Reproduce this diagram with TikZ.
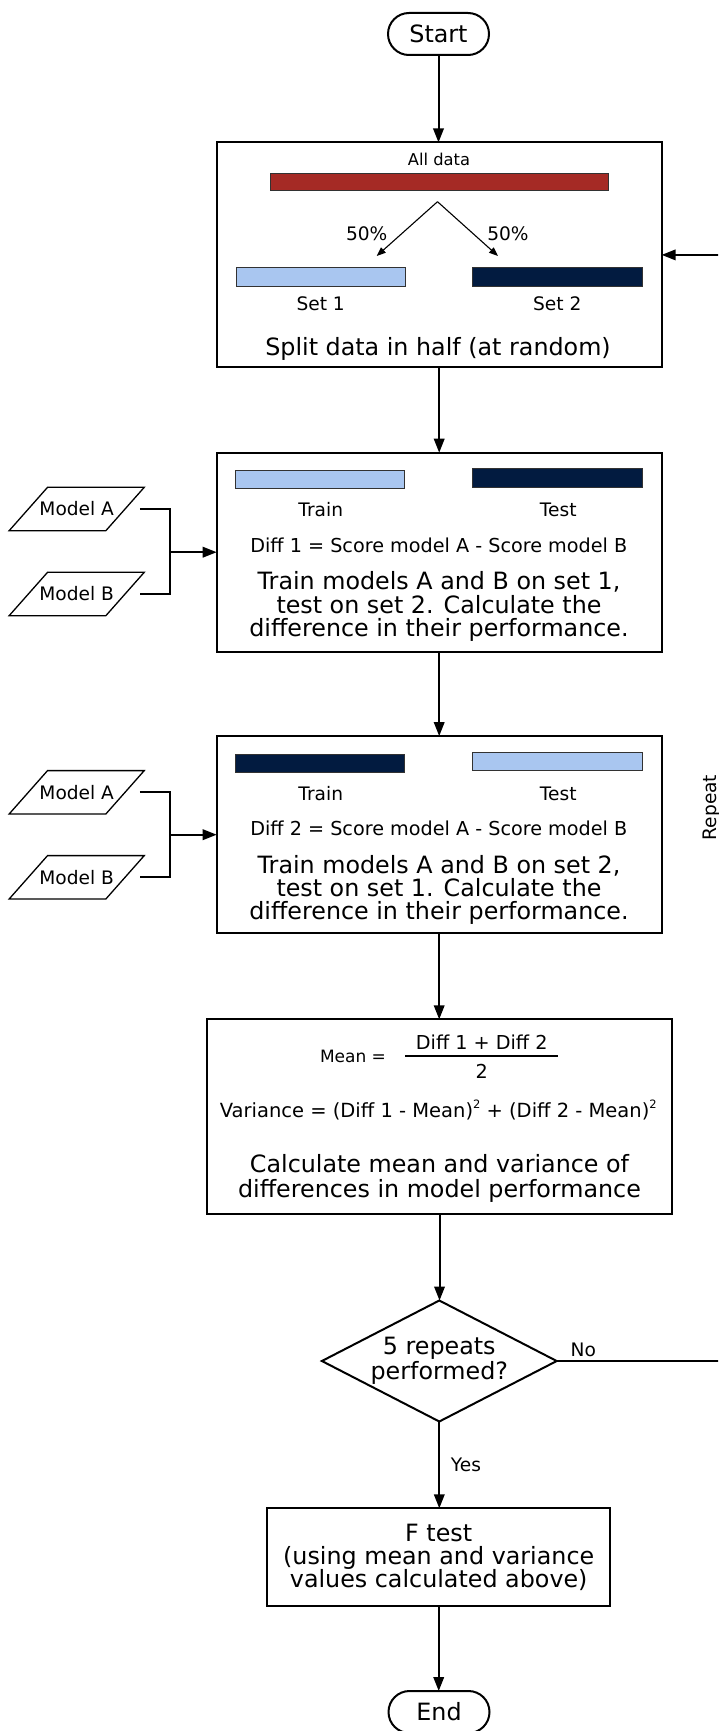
\documentclass[tikz,border=0pt]{standalone}
\usepackage{fontspec}
\setmainfont{DejaVu Sans}
\usetikzlibrary{arrows.meta,shapes.geometric,calc}

\definecolor{alldata}{RGB}{165,42,37}
\definecolor{lightset}{RGB}{169,198,240}
\definecolor{darkset}{RGB}{2,27,64}
\definecolor{barline}{RGB}{50,50,50}

\newcommand\txtL{\fontsize{23.8}{23.3}\selectfont}
\newcommand\txtM{\fontsize{18.6}{20}\selectfont}
\newcommand\txtD{\fontsize{19.2}{20}\selectfont}
\newcommand\txtS{\fontsize{16.3}{18}\selectfont}
\newcommand\sqr{\raisebox{0.42em}{\fontsize{11.5}{11.5}\selectfont 2}}

\begin{document}
\begin{tikzpicture}[x=1pt,y=-1pt,
  every node/.style={inner sep=0pt, outer sep=0pt, text=black},
  flow/.style={draw=black, line width=2pt, fill=white},
  terminal/.style={flow, rectangle, rounded corners=21pt, minimum width=101pt, minimum height=42pt, font=\txtL},
  procbox/.style={flow, rectangle},
  bar/.style={draw=barline, line width=1pt, rectangle},
  inputbox/.style={rectangle, minimum width=96.7pt, minimum height=43.4pt, font=\txtM},
  decision/.style={flow, diamond, aspect=1.94, minimum width=234.8pt, minimum height=121pt,
    align=center, font=\fontsize{23.8}{25}\selectfont},
  link/.style={line width=2pt, draw=black, line join=miter},
  arrowlink/.style={link, -{Triangle[length=14pt,width=10.5pt]}},
  splitlink/.style={line width=1.1pt, -{Triangle[length=9pt,width=7pt]}},
  lblM/.style={font=\txtM, text height=13.6pt, text depth=0pt},
  lblD/.style={font=\txtD, text height=14pt, text depth=0pt},
  lblS/.style={font=\txtS, text height=11.9pt, text depth=0pt},
  lblL/.style={font=\txtL, text height=17.4pt, text depth=0pt},
  bigtext/.style={align=center, font=\txtL},
]
\useasboundingbox (0,0) rectangle (718,1731);
\clip (0,0) rectangle (718,1731);
\fill[white] (0,0) rectangle (718,1731);

% ---------- terminals ----------
\node[terminal] (start) at (438.5,34) {Start};
\node[terminal] (end) at (439,1712) {End};

% ---------- split step ----------
\node[procbox, minimum width=445pt, minimum height=224.8pt] (split) at (439.2,254.9) {};
\node[lblS] (alltxt) at (439,160) {All data};
\node[bar, fill=alldata, minimum width=338pt, minimum height=17pt] (allbar) at (439,182.5) {};
\coordinate (fork) at (437.5,201.7);
\coordinate (forkL) at (376.7,256);
\coordinate (forkR) at (498,256);
\draw[splitlink] (fork) -- (forkL);
\draw[splitlink] (fork) -- (forkR);
\node[lblM] (halfL) at (366.7,234) {50\%};
\node[lblM] (halfR) at (508,234) {50\%};
\node[bar, fill=lightset, minimum width=169pt, minimum height=18.7pt] (set1bar) at (320.5,277.3) {};
\node[bar, fill=darkset, minimum width=170pt, minimum height=18.7pt] (set2bar) at (557.7,277.3) {};
\node[lblM] (set1txt) at (320.7,303.3) {Set 1};
\node[lblM] (set2txt) at (557.3,303.3) {Set 2};
\node[lblL] (splittxt) at (438,346.7) {Split data in half (at random)};

% ---------- first train/test step ----------
\node[procbox, minimum width=445pt, minimum height=199pt] (b1) at (439.2,552.2) {};
\node[bar, fill=lightset, minimum width=169.3pt, minimum height=18.3pt] (b1train) at (320.3,479.8) {};
\node[bar, fill=darkset, minimum width=170pt, minimum height=18.7pt] (b1test) at (557.7,478.3) {};
\node[lblM] (b1traintxt) at (320.7,510) {Train};
\node[lblM] (b1testtxt) at (558.3,510) {Test};
\node[lblD] (b1diff) at (438.8,545) {Diff 1 = Score model A - Score model B};
\node[bigtext] (b1main) at (439,606.5) {Train models A and B on set 1,\\test on set 2. Calculate the\\difference in their performance.};

\node[inputbox] (mA1) at (76.7,509) {Model A};
\node[inputbox] (mB1) at (76.7,594) {Model B};
\coordinate (a1) at ([xshift=14.7pt]mA1.east);
\coordinate (bb1) at ([xshift=14.7pt]mB1.east);
\coordinate (j1) at (170,552.2);
\draw[link] (a1) -| (j1) |- (bb1);
\draw[arrowlink] (j1) -- (j1 -| b1.west);

% ---------- second train/test step ----------
\node[procbox, minimum width=445pt, minimum height=197.3pt] (b2) at (439.2,834.7) {};
\node[bar, fill=darkset, minimum width=169.3pt, minimum height=18.3pt] (b2train) at (320.3,763.2) {};
\node[bar, fill=lightset, minimum width=170pt, minimum height=18.7pt] (b2test) at (557.7,761.5) {};
\node[lblM] (b2traintxt) at (320.7,793.3) {Train};
\node[lblM] (b2testtxt) at (558.3,793.3) {Test};
\node[lblD] (b2diff) at (438.8,828.3) {Diff 2 = Score model A - Score model B};
\node[bigtext] (b2main) at (439,889.8) {Train models A and B on set 2,\\test on set 1. Calculate the\\difference in their performance.};

\node[inputbox] (mA2) at (76.7,792.3) {Model A};
\node[inputbox] (mB2) at (76.7,877.3) {Model B};
\coordinate (a2) at ([xshift=14.7pt]mA2.east);
\coordinate (bb2) at ([xshift=14.7pt]mB2.east);
\coordinate (j2) at (170,834.7);
\draw[link] (a2) -| (j2) |- (bb2);
\draw[arrowlink] (j2) -- (j2 -| b2.west);

% slanted outlines of the model inputs
\foreach \m in {mA1,mB1,mA2,mB2}{
  \draw[line width=1.3pt, line join=miter]
    ([xshift=19.2pt]\m.north west) -- ([xshift=19.2pt]\m.north east)
    -- ([xshift=-19.2pt]\m.south east) -- ([xshift=-19.2pt]\m.south west) -- cycle;
}

% ---------- mean and variance ----------
\node[procbox, minimum width=464.4pt, minimum height=194.7pt] (b3) at (439.5,1116.7) {};
\node[font=\fontsize{17}{18}\selectfont, text height=12.4pt, text depth=0pt] (meantxt) at (353,1056.7) {Mean =};
\node[lblD] (num) at (481.7,1042.3) {Diff 1 + Diff 2};
\node[lblD] (den) at (481.7,1071.7) {2};
\draw[line width=1.4pt] (405,1056) -- (558.3,1056);
\node[font=\fontsize{19.5}{20}\selectfont, text height=14.2pt, text depth=0pt] (variance) at (438.3,1110) {Variance = (Diff 1 - Mean)\sqr{} + (Diff 2 - Mean)\sqr};
\node[align=center, font=\fontsize{23.8}{25.3}\selectfont] (b3main) at (439.5,1178.7) {Calculate mean and variance of\\differences in model performance};

% ---------- decision ----------
\node[decision] (dec) at (439.3,1361) {5 repeats\\performed?};
\node[lblM] (notxt) at (583.3,1349.3) {No};
\node[lblM] (yestxt) at (466,1465) {Yes};

% ---------- F test ----------
\node[procbox, minimum width=342.7pt, minimum height=97.7pt, align=center, font=\fontsize{23.8}{23.3}\selectfont] (ftest) at (438.7,1557.2) {F test\\(using mean and variance\\values calculated above)};

% ---------- main flow ----------
\draw[arrowlink] (start.south) -- (start.south |- split.north);
\draw[arrowlink] (split.south) -- (split.south |- b1.north);
\draw[arrowlink] (b1.south) -- (b1.south |- b2.north);
\draw[arrowlink] (b2.south) -- (b2.south |- b3.north);
\draw[arrowlink] (b3.south) -- (b3.south |- dec.north);
\draw[arrowlink] (dec.south) -- (dec.south |- ftest.north);
\draw[arrowlink] (ftest.south) -- (ftest.south |- end.north);

% ---------- repeat loop ----------
\coordinate (loopT) at (730,254.9);
\draw[arrowlink] (dec.east) -| (loopT) -- (split.east);
\node[lblM, rotate=90] (repeattxt) at (709.3,807.5) {Repeat};
\end{tikzpicture}
\end{document}
